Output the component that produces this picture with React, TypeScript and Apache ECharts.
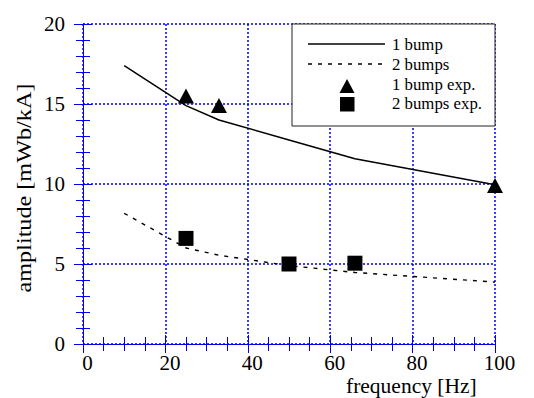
import React, { useEffect, useRef } from "react";
import * as echarts from "echarts";

const oneBumpSim: [number, number][] = [
  [10, 17.4], [25, 14.9], [33, 14.0], [50, 12.75], [66, 11.58], [100, 9.95],
];
const twoBumpsSim: [number, number][] = [
  [10, 8.17], [25, 6.0], [33, 5.55], [50, 4.9], [66, 4.47], [100, 3.87],
];
const oneBumpExp: [number, number][] = [
  [25, 15.5], [33, 14.9], [100, 9.9],
];
const twoBumpsExp: [number, number][] = [
  [25, 6.6], [50, 5.0], [66, 5.05],
];
const legendNames = ["1 bump", "2 bumps", "1 bump exp.", "2 bumps exp."];
const xName = "frequency [Hz]";
const yName = "amplitude [mWb/kA]";

const FONT = '"Liberation Serif", "Times New Roman", serif';
const BLUE = "#0000ee";

export default function App() {
  const ref = useRef<HTMLDivElement>(null);
  useEffect(() => {
    if (!ref.current) return;
    const chart = echarts.init(ref.current, null, { renderer: "svg" });
    const G = { left: 83, top: 24, width: 412, height: 320 };
    const split = { show: true, lineStyle: { color: BLUE, width: 1.5, type: [2, 2] as any } };
    const axLine = { show: true, lineStyle: { color: BLUE, width: 1 } };
    const majorX = (pos: string, labels: boolean, grid: boolean) => ({
      type: "value", gridIndex: 0, position: pos, min: 0, max: 100, interval: 20,
      axisLine: axLine,
      axisTick: { show: true, inside: false, length: 9, lineStyle: { color: BLUE } },
      minorTick: { show: false },
      axisLabel: labels
        ? { show: true, fontFamily: FONT, fontSize: 21, color: "#000", margin: 9, lineHeight: 20, padding: [0, 0, 0, 9] }
        : { show: false },
      splitLine: grid ? split : { show: false },
    });
    const minorX = (pos: string) => ({
      type: "value", gridIndex: 1, position: pos, min: 0, max: 100, interval: 20,
      axisLine: { show: false },
      axisTick: { show: false, inside: true },
      minorTick: { show: true, splitNumber: 4, length: 7, lineStyle: { color: BLUE } },
      axisLabel: { show: false },
      splitLine: { show: false },
    });
    const majorY = (pos: string, labels: boolean, grid: boolean) => ({
      type: "value", gridIndex: 0, position: pos, min: 0, max: 20, interval: 5,
      axisLine: axLine,
      axisTick: { show: true, inside: false, length: 9, lineStyle: { color: BLUE } },
      minorTick: { show: false },
      axisLabel: labels
        ? { show: true, fontFamily: FONT, fontSize: 21, color: "#000", margin: 18 }
        : { show: false },
      splitLine: grid ? split : { show: false },
    });
    const minorY = (pos: string) => ({
      type: "value", gridIndex: 1, position: pos, min: 0, max: 20, interval: 5,
      axisLine: { show: false },
      axisTick: { show: false, inside: true },
      minorTick: { show: true, splitNumber: 5, length: 7, lineStyle: { color: BLUE } },
      axisLabel: { show: false },
      splitLine: { show: false },
    });

    const legendX = 392;
    const legendY = [44, 64, 84, 103.5];
    const tf = (t: string, y: number) => ({
      type: "text", x: legendX, y, z: 101,
      style: {
        text: t, font: `16.8px ${FONT}`, lineHeight: 16, fill: "#000",
        verticalAlign: "middle", align: "left",
      },
    });

    chart.setOption({
      animation: false,
      backgroundColor: "#fff",
      grid: [
        { ...G, containLabel: false },
        { ...G, containLabel: false },
      ],
      xAxis: [majorX("bottom", true, true), majorX("top", false, false), minorX("bottom"), minorX("top")],
      yAxis: [majorY("left", true, true), majorY("right", false, false), minorY("left"), minorY("right")],
      series: [
        {
          name: legendNames[0], type: "line", xAxisIndex: 0, yAxisIndex: 0, data: oneBumpSim,
          symbol: "none", lineStyle: { color: "#000", width: 1.5 }, z: 3,
        },
        {
          name: legendNames[1], type: "line", xAxisIndex: 0, yAxisIndex: 0, data: twoBumpsSim,
          symbol: "none", lineStyle: { color: "#000", width: 1.4, type: [4, 6] }, z: 3,
        },
        {
          name: legendNames[2], type: "scatter", xAxisIndex: 0, yAxisIndex: 0, data: oneBumpExp,
          symbol: "triangle", symbolSize: [16, 15], itemStyle: { color: "#000", opacity: 1 }, clip: false, z: 4,
        },
        {
          name: legendNames[3], type: "scatter", xAxisIndex: 0, yAxisIndex: 0, data: twoBumpsExp,
          symbol: "rect", symbolSize: 15, itemStyle: { color: "#000", opacity: 1 }, clip: false, z: 4,
        },
      ],
      graphic: [
        {
          type: "rect", z: 100, shape: { x: 292, y: 24, width: 203, height: 102 },
          style: { fill: "#fff", stroke: "#222", lineWidth: 1 },
        },
        {
          type: "line", z: 101, shape: { x1: 308, y1: legendY[0], x2: 385, y2: legendY[0] },
          style: { stroke: "#000", lineWidth: 1.5 },
        },
        {
          type: "line", z: 101, shape: { x1: 308, y1: legendY[1], x2: 385, y2: legendY[1] },
          style: { stroke: "#000", lineWidth: 1.4, lineDash: [4, 6] },
        },
        {
          type: "polygon", z: 101, shape: { points: [[347, 79], [339.5, 93], [354.5, 93]] },
          style: { fill: "#000" },
        },
        {
          type: "rect", z: 101, shape: { x: 340, y: 97, width: 14.5, height: 14.5 },
          style: { fill: "#000" },
        },
        tf(legendNames[0], legendY[0]),
        tf(legendNames[1], legendY[1]),
        tf(legendNames[2], legendY[2]),
        tf(legendNames[3], legendY[3]),
        {
          type: "text", x: 346, y: 386, z: 50,
          style: {
            text: xName, font: `21.5px ${FONT}`, lineHeight: 18, fill: "#000",
            verticalAlign: "middle", align: "left",
          },
        },
        {
          type: "text", x: 23, y: 188, rotation: Math.PI / 2, scaleX: 1.1, z: 50,
          style: { text: yName, font: `22px ${FONT}`, fill: "#000", verticalAlign: "middle", align: "center" },
        },
      ],
    });
    return () => chart.dispose();
  }, []);
  return (
    <div
      ref={ref}
      style={{ position: "fixed", left: 0, top: 0, width: 534, height: 398 }}
    />
  );
}
